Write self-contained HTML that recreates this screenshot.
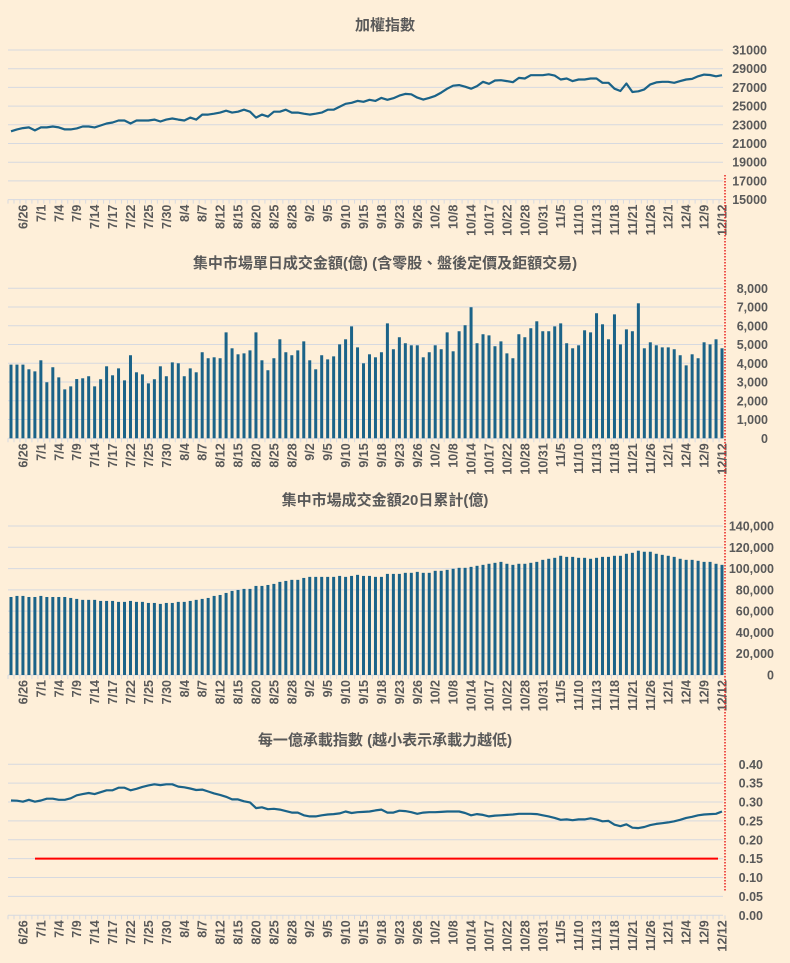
<!DOCTYPE html>
<html><head><meta charset="utf-8"><style>
html,body{margin:0;padding:0;background:#FEEFD9;}
svg{display:block;font-family:"Liberation Sans","Noto Sans CJK TC",sans-serif;}
</style></head><body>
<svg id="chart" width="790" height="963" viewBox="0 0 790 963" xmlns="http://www.w3.org/2000/svg"></svg>
<script>
const dateLabels = ["6/26","7/1","7/4","7/9","7/14","7/17","7/22","7/25","7/30","8/4","8/7","8/12","8/15","8/20","8/25","8/28","9/2","9/5","9/10","9/15","9/18","9/23","9/26","10/2","10/8","10/14","10/17","10/22","10/28","10/31","11/5","11/10","11/13","11/18","11/21","11/26","12/1","12/4","12/9","12/12"];
const indexValues = [22300,22510,22650,22720,22400,22720,22720,22820,22720,22510,22510,22610,22820,22820,22720,22930,23140,23250,23460,23460,23140,23460,23460,23460,23560,23350,23560,23670,23560,23460,23770,23560,24090,24090,24190,24300,24510,24300,24400,24610,24400,23770,24090,23880,24400,24400,24610,24300,24300,24190,24090,24190,24300,24610,24610,24930,25250,25350,25560,25460,25670,25560,25880,25670,
25840,26120,26300,26260,25910,25700,25880,26090,26440,26860,27180,27250,27070,26860,27140,27600,27390,27740,27770,27670,27560,28020,27950,28300,28300,28300,28400,28260,27840,27950,27670,27840,27840,27950,27950,27490,27490,26860,26610,27420,26510,26580,26790,27320,27530,27600,27600,27490,27670,27840,27910,28190,28370,28330,28190,28300];
const dailyValues = [3930,3930,3930,3680,3570,4160,2990,3790,3250,2610,2770,3160,3200,3310,2770,3150,3840,3360,3730,3090,4430,3520,3410,2930,3150,3840,3310,4050,4000,3310,3730,3520,4590,4270,4320,4270,5650,4800,4480,4530,4690,5650,4160,3630,4270,5280,4590,4430,4690,5170,4160,3680,4430,4210,4370,5010,5280,5970,4850,4000,4480,4320,4590,6130,4750,5390,
5070,4960,4960,4320,4590,4960,4750,5650,4640,5710,6030,6990,5070,5550,5490,4910,5170,4530,4270,5550,5390,5870,6240,5710,5710,5970,6130,5070,4800,4960,5760,5650,6670,6080,5280,6610,5010,5810,5710,7200,4800,5120,4960,4850,4850,4750,4430,3890,4480,4270,5120,5010,5280,4800];
const cumValues = [73300,74300,74300,73300,73300,74300,73300,73300,73300,73300,72400,71500,70600,70600,70600,69600,69600,69600,68700,68700,69600,68700,68700,67700,67700,66800,67700,67700,68700,68700,69600,70600,71500,72400,74300,75200,77100,79000,79900,80900,80900,83700,83700,84600,85600,87500,88400,89400,89400,91200,92200,92200,92200,92200,92200,93100,92200,93100,94100,93100,93100,92200,92200,95000,95000,95000,
96000,96000,96900,96000,96000,97900,97900,98800,99800,100700,100700,101600,102600,103500,104500,105400,106300,104500,103500,104500,104500,105400,106300,108200,109200,110100,112000,111000,111000,110100,110100,109200,110100,111000,111000,112000,112000,113900,114800,116800,115800,115800,113900,112900,112000,111000,109200,108200,108200,107300,106300,106300,104500,103500];
const ratioValues = [0.304,0.3035,0.301,0.306,0.301,0.304,0.309,0.309,0.306,0.306,0.310,0.318,0.321,0.324,0.321,0.326,0.331,0.331,0.338,0.338,0.331,0.335,0.340,0.344,0.347,0.345,0.347,0.347,0.341,0.339,0.336,0.332,0.333,0.328,0.323,0.319,0.314,0.307,0.307,0.302,0.299,0.284,0.286,0.281,0.282,0.280,0.276,0.272,0.272,0.265,0.262,0.262,0.265,0.267,0.268,0.270,0.275,0.271,0.273,0.274,0.275,0.278,0.280,0.272,0.272,0.277,
0.276,0.273,0.269,0.272,0.273,0.273,0.274,0.275,0.275,0.275,0.271,0.265,0.268,0.266,0.262,0.264,0.265,0.266,0.267,0.269,0.269,0.269,0.268,0.265,0.262,0.258,0.253,0.254,0.252,0.254,0.254,0.257,0.254,0.249,0.250,0.240,0.236,0.241,0.232,0.231,0.234,0.239,0.242,0.244,0.246,0.249,0.253,0.258,0.261,0.265,0.267,0.268,0.269,0.275];
const indexTicks = [31000,29000,27000,25000,23000,21000,19000,17000,15000];
const dailyTicks = [8000,7000,6000,5000,4000,3000,2000,1000,0];
const cumTicks = [140000,120000,100000,80000,60000,40000,20000,0];
const ratioTicks = [0.40,0.35,0.30,0.25,0.20,0.15,0.10,0.05,0.00];
const ratioThreshold = 0.15;

const NS="http://www.w3.org/2000/svg";
const svg=document.getElementById('chart');
const N=indexValues.length, L=8, R=725, band=(R-L)/N;
const xAt=i=>L+band*(i+0.5);
function mk(tag,attrs,parent){const e=document.createElementNS(NS,tag);for(const k in attrs)e.setAttribute(k,attrs[k]);(parent||svg).appendChild(e);return e;}
function yScale(min,max,top,bottom){return v=>bottom-(v-min)/(max-min)*(bottom-top);}
const fmtComma=v=>v.toLocaleString('en-US');

function panel(cfg){
  const g=mk('g',{});
  
  
  const t=mk('text',{x:385,y:cfg.titleY,'text-anchor':'middle','font-size':'15','font-weight':'bold',fill:'#595959'},g);
  t.textContent=cfg.title;
  
  
  const ys=yScale(cfg.min,cfg.max,cfg.top,cfg.bottom);
  cfg.ticks.forEach(v=>{
    const y=ys(v);
    if(v!==cfg.min){const gl=mk('line',{x1:L,x2:R-2,y1:y,y2:y,stroke:'#D6D9E0','stroke-width':1},g);
      
      }
    const tl=mk('text',{x:cfg.labelX,y:y+4.5,'text-anchor':'end','font-size':'12.5','font-weight':'bold',fill:'#595959'},g);
    tl.textContent=cfg.fmt(v);
    
    
  });
  const ax=mk('line',{x1:L,x2:R-2,y1:cfg.bottom,y2:cfg.bottom,stroke:'#D6D9E0','stroke-width':1},g);
  
  
  for(let i=0;i<=N;i++){const x=L+band*i;mk('line',{x1:x,x2:x,y1:cfg.bottom,y2:cfg.bottom+4,stroke:'#D6D9E0','stroke-width':1},g);}
  dateLabels.forEach((d,k)=>{
    const x=xAt(2+3*k);const y=cfg.bottom+5;
    const tx=mk('text',{x:0,y:0,transform:`translate(${x+4.5},${y}) rotate(-90)`,'text-anchor':'end','font-size':'12.5','font-weight':'bold',fill:'#595959'},g);
    tx.textContent=d;
    
    
  });
  if(cfg.type==='line'){
    const pts=cfg.data.map((v,i)=>xAt(i).toFixed(1)+','+ys(v).toFixed(1)).join(' ');
    const pl=mk('polyline',{points:pts,fill:'none',stroke:'#1B6388','stroke-width':2.2,'stroke-linejoin':'round'},g);
    
    
  } else {
    cfg.data.forEach((v,i)=>{
      const y=ys(v);
      const b=mk('rect',{x:xAt(i)-1.5,y:y,width:3,height:cfg.bottom-y,fill:'#1B6388'},g);
      
      
    });
  }
  return ys;
}
panel({name:'weighted-index-chart',title:'加權指數',titleY:30,type:'line',data:indexValues,min:15000,max:31000,top:50,bottom:199.6,ticks:indexTicks,labelX:767,fmt:v=>String(v)});
panel({name:'daily-turnover-chart',title:'集中市場單日成交金額(億) (含零股、盤後定價及鉅額交易)',titleY:268,type:'bar',data:dailyValues,min:0,max:8000,top:288.3,bottom:438.3,ticks:dailyTicks,labelX:768,fmt:fmtComma});
panel({name:'cumulative-turnover-chart',title:'集中市場成交金額20日累計(億)',titleY:505,type:'bar',data:cumValues,min:0,max:140000,top:526,bottom:675,ticks:cumTicks,labelX:774,fmt:fmtComma});
const ysR=panel({name:'capacity-index-chart',title:'每一億承載指數 (越小表示承載力越低)',titleY:745,type:'line',data:ratioValues,min:0,max:0.40,top:764.3,bottom:915.3,ticks:ratioTicks,labelX:763,fmt:v=>v.toFixed(2)});
const th=mk('line',{x1:35,x2:718,y1:ysR(ratioThreshold),y2:ysR(ratioThreshold),stroke:'#FF0000','stroke-width':2});


const vl=mk('line',{x1:725,x2:725,y1:175,y2:892,stroke:'#E8201E','stroke-width':1.5,'stroke-dasharray':'1.5,1.5'});


</script>
</body></html>
